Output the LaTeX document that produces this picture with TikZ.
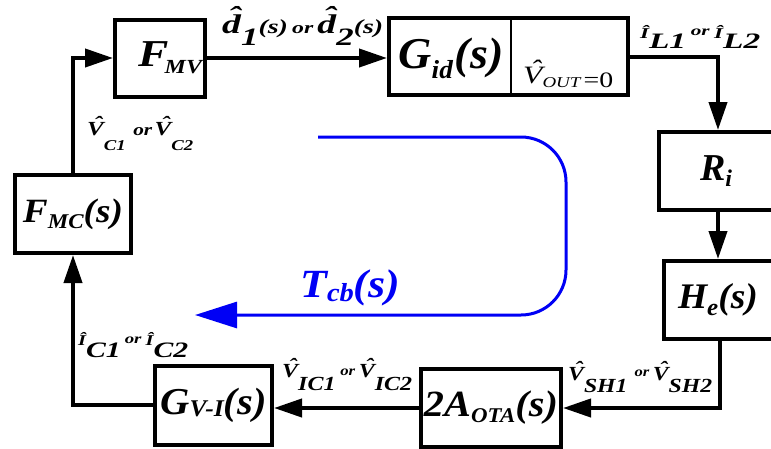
\documentclass[tikz,border=0pt]{standalone}
\usepackage{fontspec}
\setmainfont{Liberation Serif}
\usetikzlibrary{arrows.meta,positioning,calc}
\definecolor{loopblue}{HTML}{0000F5}
\newcommand{\fs}[1]{\fontsize{#1}{#1}\selectfont}
\newcommand{\subx}[3]{\raisebox{-#1pt}{\fs{#2}#3}}
\newcommand{\fitw}[2]{\resizebox{#1pt}{\height}{#2}}
\newsavebox{\hatbase}
\newcommand{\hatof}[1]{\sbox{\hatbase}{#1}%
  \rlap{\hbox to\wd\hatbase{\hss\kern0.3\wd\hatbase\raisebox{\dimexpr\ht\hatbase-\fontdimen5\font+0.03em\relax}{\char"02C6}\hss}}%
  \usebox{\hatbase}}
\tikzset{
  block/.style={draw=black,line width=4pt,fill=white,inner sep=0pt,font=\bfseries\itshape},
  flow/.style={-{Triangle[length=28pt,width=18pt]},line width=4pt,draw=black},
  sig/.style={font=\bfseries\itshape,anchor=base west,inner sep=0pt},
  loopgain/.style={-{Triangle[length=42pt,width=26pt]},line width=3pt,draw=loopblue,rounded corners=45pt},
}

\begin{document}
\begin{tikzpicture}[x=1pt,y=-1pt]
\useasboundingbox (0,0) rectangle (771,448);

% blocks of the loop
\node[block,minimum width=90pt,minimum height=77pt] (fmv) at (160,58) {\kern20pt\fitw{64}{\fs{38}F\kern-3pt\subx{7}{20}{MV}}};
\node[block,minimum width=239pt,minimum height=77pt] (gid) at (508.5,56.5) {};
\node[sig,anchor=base] (gidtxt) at (451,68) {\fitw{105}{\fs{44}G\subx{10}{26}{id}\kern2pt(s)}};
\node[anchor=base west,inner sep=0pt] (vout) at (523,87) {\fitw{90}{\itshape\raisebox{4pt}{\fs{25}\hatof{V}}\fs{15}OUT\,\upshape\fs{22}=0}};
\draw[line width=2pt] ($(gid.north west)+(124,0)$) -- ($(gid.south west)+(124,0)$);
\node[block,minimum width=118pt,minimum height=78pt] (ri) at (718,171) {\kern-4pt\fs{38}R\subx{6}{24}{i}};
\node[block,minimum width=112pt,minimum height=78pt] (he) at (720,300) {\fitw{80}{\fs{36}H\subx{7}{24}{e}(s)}\kern4pt};
\node[block,minimum width=140pt,minimum height=78pt] (ota) at (491,408) {\fitw{134}{\fs{37}2A\subx{6}{21}{OTA}(s)}};
\node[block,minimum width=117pt,minimum height=79pt] (gvi) at (213.5,405) {\fitw{106}{\fs{38}G\subx{2}{24}{V-I}(s)}};
\node[block,minimum width=116pt,minimum height=78pt] (fmc) at (73,214) {\fitw{100}{\fs{34}F\subx{6}{21}{MC}(s)}};

% connectors
\draw[flow] (fmc.north) |- (fmv.west);
\draw[flow] (fmv.east) -- (fmv.east -| gid.west);
\draw[flow] (gid.east) -| (ri.north);
\draw[flow] (ri.south) -- (ri.south |- he.north);
\draw[flow] (he.south) |- (ota.east);
\draw[flow] (ota.west) -- (ota.west -| gvi.east);
\draw[flow] (gvi.west) -| (fmc.south);

% signal labels
\node[sig] (dlbl) at (222,33) {\fitw{161}{{\fs{27}\hatof{d}}\subx{12}{25}{1}{\fs{20}(s)}\kern3pt{\fs{17}or}\kern3pt{\fs{27}\hatof{d}}\subx{12}{25}{2}{\fs{20}(s)}}};
\node[sig] (vclbl) at (87,135) {\fitw{106}{{\fs{20}\hatof{V}}\subx{15}{15}{C1}\kern6pt{\fs{17}or}\kern2pt{\fs{20}\hatof{V}}\subx{15}{15}{C2}}};
\node[sig] (illbl) at (640,38) {\fitw{120}{{\fs{15}Î}\subx{10}{22}{L1}\kern3pt\raisebox{3pt}{\fs{14}or}\kern3pt{\fs{15}Î}\subx{10}{22}{L2}}};
\node[sig] (iclbl) at (78,345) {\fitw{110}{{\fs{15}Î}\subx{12}{22}{C1}\kern3pt\raisebox{2pt}{\fs{14}or}\kern3pt{\fs{15}Î}\subx{12}{22}{C2}}};
\node[sig] (viclbl) at (282,377) {\fitw{130}{{\fs{20}\hatof{V}}\subx{13}{20}{IC1}\kern4pt\raisebox{2pt}{\fs{14}or}\kern3pt{\fs{20}\hatof{V}}\subx{13}{20}{IC2}}};
\node[sig] (vshlbl) at (568,380) {\fitw{144}{{\fs{20}\hatof{V}}\subx{12}{20}{SH1}\kern6pt\raisebox{4pt}{\fs{14}or}\kern3pt{\fs{20}\hatof{V}}\subx{12}{20}{SH2}}};

% loop gain path
\coordinate (loopstart) at (318,137);
\coordinate (loopend) at (195,315);
\draw[loopgain] (loopstart) -| (566,315) -- (loopend);
\node[sig,text=loopblue] (tcb) at (300,297) {\fitw{100}{\fs{40}T\subx{4}{26}{cb}(s)}};

\end{tikzpicture}
\end{document}
